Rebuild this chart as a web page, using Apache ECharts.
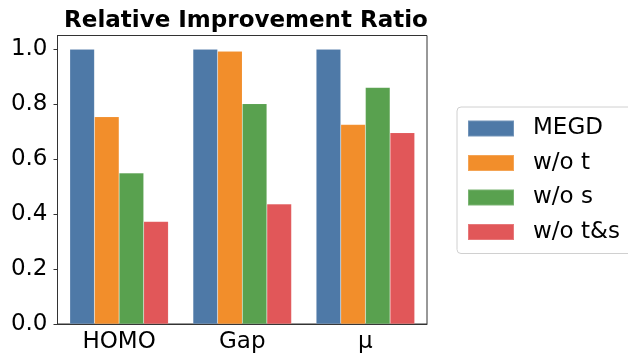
<!DOCTYPE html>
<html>
<head>
<meta charset="utf-8">
<script src="https://cdn.jsdelivr.net/npm/echarts@6/dist/echarts.min.js"></script>
<style>
html, body { margin: 0; padding: 0; background: #fff; }
#main { width: 628px; height: 354px; }
</style>
</head>
<body>
<div id="main"></div>
<script>
// 数据
var categories = ['HOMO', 'Gap', 'μ']
var seriesNames = ['MEGD', 'w/o t', 'w/o s', 'w/o t&s']
var megd = [1.0, 1.0, 1.0]
var woT = [0.754, 0.993, 0.726]
var woS = [0.550, 0.802, 0.861]
var woTS = [0.373, 0.437, 0.696]
var colors = ['#4e79a7', '#f28e2b', '#59a14f', '#e15759']

var font = 'DejaVu Sans'
var myChart = echarts.init(document.getElementById('main'))

function makeSeries (name, data, color) {
    return {
        name: name,
        type: 'bar',
        data: data,
        barGap: '0%',
        barCategoryGap: '20%',
        itemStyle: {
            color: color,
            borderColor: 'rgba(255,255,255,0.2)',
            borderWidth: 0.5
        }
    }
}

var option = {
    animation: false,
    textStyle: { fontFamily: font },
    title: {
        text: 'Relative Improvement Ratio',
        left: 241,
        top: 5,
        textAlign: 'center',
        textStyle: { fontFamily: font, fontWeight: 'bold', fontSize: 23, color: '#000' }
    },
    legend: {
        orient: 'vertical',
        left: 457,
        top: 107,
        padding: [10, 80, 10, 10],
        itemWidth: 46,
        itemHeight: 16,
        itemGap: 11.5,
        borderColor: '#d0d0d0',
        borderWidth: 1,
        borderRadius: 4,
        icon: 'rect',
        data: seriesNames,
        textStyle: { fontFamily: font, fontSize: 23, color: '#000', padding: [0, 0, 0, 14] }
    },
    grid: {
        left: 57.5,
        right: 201,
        top: 35.5,
        bottom: 29.5,
        show: true,
        borderColor: '#333',
        borderWidth: 1
    },
    xAxis: {
        type: 'category',
        data: categories,
        axisLine: { lineStyle: { color: '#333', width: 1 } },
        axisTick: { alignWithLabel: true, length: 4, lineStyle: { color: '#333' } },
        axisLabel: { fontFamily: font, fontSize: 23, color: '#000', margin: 7 }
    },
    yAxis: {
        type: 'value',
        min: 0,
        max: 1.05,
        interval: 0.2,
        splitLine: { show: false },
        axisLine: { show: true, lineStyle: { color: '#333', width: 1 } },
        axisTick: { show: true, length: 4, lineStyle: { color: '#333' } },
        axisLabel: {
            fontFamily: font,
            fontSize: 23,
            color: '#000',
            margin: 10,
            formatter: function (v) { return v.toFixed(1) },
            showMaxLabel: false
        }
    },
    series: [
        makeSeries(seriesNames[0], megd, colors[0]),
        makeSeries(seriesNames[1], woT, colors[1]),
        makeSeries(seriesNames[2], woS, colors[2]),
        makeSeries(seriesNames[3], woTS, colors[3])
    ]
}

myChart.setOption(option)
</script>
</body>
</html>
